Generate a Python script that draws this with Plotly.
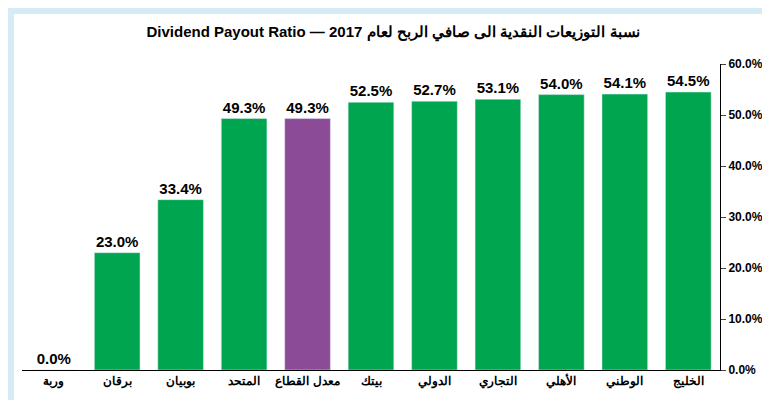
import plotly.graph_objects as go

categories = ["وربة", "برقان", "بوبيان", "المتحد", "معدل القطاع", "بيتك", "الدولي", "التجاري", "الأهلي", "الوطني", "الخليج"]
values = [0.0, 23.0, 33.4, 49.3, 49.3, 52.5, 52.7, 53.1, 54.0, 54.1, 54.5]
colors = ["#00a550"] * 4 + ["#8b4b97"] + ["#00a550"] * 6

fig = go.Figure(go.Bar(
    x=[f"<b>{c}</b>" for c in categories], y=values, marker_color=colors, width=0.72,
    text=[f"<b>{v:.1f}%</b>" for v in values], textposition="outside",
    textfont=dict(family="Liberation Sans", size=15, color="black"),
    cliponaxis=False,
))
fig.update_layout(
    width=770, height=400,
    paper_bgcolor="#d5ecf7", plot_bgcolor="white",
    margin=dict(l=14, r=58, t=56, b=38),
    title=dict(text="<b>Dividend Payout Ratio — نسبة التوزيعات النقدية الى صافي الربح لعام 2017</b>",
               x=0.5, y=0.955, xanchor="center",
               font=dict(family="Liberation Sans", size=15, color="black")),
    showlegend=False, bargap=0.28,
    shapes=[dict(type="rect", xref="paper", yref="paper", x0=-0.0115, x1=1.0745, y0=-0.105, y1=1.163,
                 fillcolor="white", line_width=0, layer="below")],
)
fig.update_yaxes(side="right", range=[0, 60], dtick=10, ticksuffix="%", tickformat=".1f",
                 showgrid=False, showline=True, linecolor="black", ticks="outside",
                 tickprefix="<b>",
                 tickfont=dict(family="Liberation Sans", size=12, color="black"))
fig.update_xaxes(showline=True, linecolor="black",
                 tickfont=dict(family="Liberation Sans", size=12, color="black"))
fig.write_html("out.html")
